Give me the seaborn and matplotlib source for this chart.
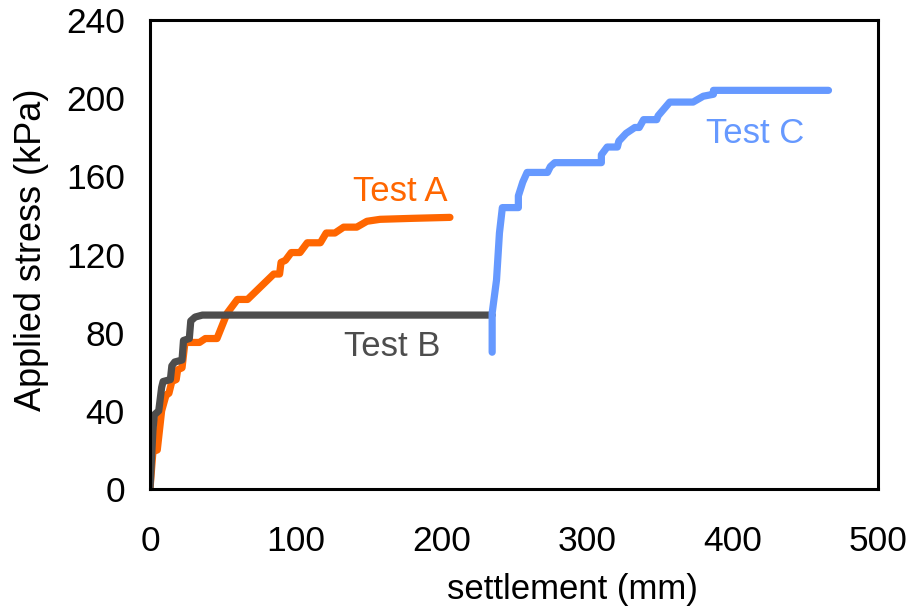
import matplotlib
matplotlib.use("Agg")
import matplotlib.pyplot as plt
import seaborn as sns
import pandas as pd

# Test A (orange)
a_x = [0, 2, 5, 8, 11, 13, 15, 18, 19, 22, 24, 34, 38, 46, 53, 60, 67, 85, 89, 90, 93, 97, 103,
       108, 117, 121, 127, 133, 142, 149, 158, 180, 206]
a_y = [0, 19, 20, 40, 48, 49, 55, 56, 61, 62, 75, 75, 77, 77, 90, 97, 97, 110, 110, 116, 117, 121, 121,
       126, 126, 131, 131, 134, 134, 137, 138, 138.5, 139]

# Test B (grey)
b_x = [0, 2, 3, 6, 8, 9, 14, 15, 17, 22, 23, 27, 28, 31, 36, 235]
b_y = [0, 30, 38, 40, 52, 55, 56, 63, 65, 66, 76, 77, 86, 88, 89, 89]

# Test C (blue)
c_x = [235, 235, 238, 240, 242, 253, 253, 256, 259, 273, 275, 278, 310, 310, 314, 321, 322, 327,
       333, 336, 339, 348, 349, 357, 373, 380, 387, 387, 466]
c_y = [70, 90, 107, 131, 144, 144, 150, 157, 162, 162, 165, 167, 167, 171, 175, 175, 178, 182,
       185, 185, 189, 189, 191, 198, 198, 201, 202, 204, 204]

series_names = ["Test A", "Test B", "Test C"]
colors = ["#ff6600", "#4d4d4d", "#6699ff"]
label_pos = [(172, 152), (166, 72.7), (415.5, 182)]

x_ticks = [0, 100, 200, 300, 400, 500]
y_ticks = [0, 40, 80, 120, 160, 200, 240]

sns.set_theme(style="white")
plt.rcParams["font.family"] = ["Liberation Sans", "DejaVu Sans"]

fig = plt.figure(figsize=(9.11, 6.15), dpi=100)
ax = fig.add_axes([150 / 911, 1 - 489 / 615, 728 / 911, 469 / 615])

data = {"Test A": (a_x, a_y), "Test B": (b_x, b_y), "Test C": (c_x, c_y)}
for name, col in zip(series_names, colors):
    xs, ys = data[name]
    df = pd.DataFrame({"x": xs, "y": ys})
    sns.lineplot(data=df, x="x", y="y", sort=False, estimator=None, color=col,
                 linewidth=5.2, solid_capstyle="round", solid_joinstyle="round", ax=ax)

for name, col, (tx, ty) in zip(series_names, colors, label_pos):
    ax.text(tx, ty, name, color=col, fontsize=25, ha="center", va="center")

ax.set_xlim(0, 500)
ax.set_ylim(0, 240)
ax.set_xticks(x_ticks)
ax.set_yticks(y_ticks)
ax.tick_params(axis="both", direction="in", length=7, width=2.2, color="black",
               labelsize=25.5, labelcolor="black")
ax.tick_params(axis="x", pad=26)
ax.tick_params(axis="y", pad=18)
for s in ax.spines.values():
    s.set_visible(True)
    s.set_color("black")
    s.set_linewidth(2.2)

ax.set_xlabel("settlement (mm)", fontsize=25, color="black", va="center", ha="center")
ax.set_ylabel("Applied stress (kPa)", fontsize=26, color="black", va="center", ha="center")
ax.xaxis.set_label_coords(0.58, -0.215)
ax.yaxis.set_label_coords(-0.163, 0.51)

fig.savefig("out.png", dpi=100)
